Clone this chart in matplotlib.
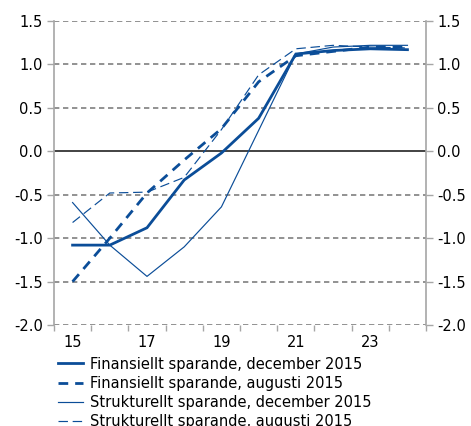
import numpy as np
import matplotlib.pyplot as plt
from matplotlib.ticker import FixedLocator

# data
years = [15, 16, 17, 18, 19, 20, 21, 22, 23, 24]
fin_dec = [-1.08, -1.08, -0.88, -0.33, -0.02, 0.38, 1.12, 1.16, 1.18, 1.17]
fin_aug = [-1.50, -1.00, -0.48, -0.10, 0.26, 0.80, 1.10, 1.15, 1.20, 1.20]
str_dec = [-0.59, -1.08, -1.44, -1.10, -0.64, 0.24, 1.12, 1.20, 1.22, 1.22]
str_aug = [-0.82, -0.48, -0.47, -0.30, 0.25, 0.88, 1.18, 1.22, 1.20, 1.19]
labels = ['Finansiellt sparande, december 2015',
          'Finansiellt sparande, augusti 2015',
          'Strukturellt sparande, december 2015',
          'Strukturellt sparande, augusti 2015']

blue = '#0b4d98'
grey = '#a6a6a6'
fs = 10.5
plt.rcParams['font.family'] = 'DejaVu Sans'

fig = plt.figure(figsize=(4.71, 4.26), dpi=100)
ax = fig.add_axes([0.1146, 0.237, 0.79, 0.7137])

# gridlines
for v in np.arange(-2.0, 1.51, 0.5):
    if abs(v) < 1e-9:
        ax.axhline(v, color='#222222', lw=1.2, zorder=1)
    else:
        ax.axhline(v, color='#7f7f7f', lw=1.2, ls=(0, (3.2, 2.2)), zorder=1)

l1, = ax.plot(years, fin_dec, color=blue, lw=2.0, solid_joinstyle='miter', zorder=3)
l2, = ax.plot(years, fin_aug, color=blue, lw=2.0, ls=(0, (3.5, 2.5)), zorder=3)
l3, = ax.plot(years, str_dec, color=blue, lw=0.85, zorder=3)
l4, = ax.plot(years, str_aug, color=blue, lw=0.85, ls=(0, (8, 4)), zorder=3)

ax.set_xlim(14.5, 24.5)
ax.set_ylim(-2.0, 1.5)

ax.set_xticks([15, 17, 19, 21, 23])
ax.set_xticklabels(['15', '17', '19', '21', '23'])
ax.xaxis.set_minor_locator(FixedLocator(np.arange(14.5, 24.6, 1.0)))
ax.tick_params(axis='x', which='major', length=0, pad=7, labelsize=fs)
ax.tick_params(axis='x', which='minor', length=4, color=grey, width=1)

ax.set_yticks(np.arange(-2.0, 1.51, 0.5))
ax.set_yticklabels(['%.1f' % v for v in np.arange(-2.0, 1.51, 0.5)])
ax.tick_params(axis='y', length=5, color=grey, width=1, labelsize=fs,
               right=True, labelright=True, pad=3)

for s in ['top', 'bottom']:
    ax.spines[s].set_visible(False)
for s in ['left', 'right']:
    ax.spines[s].set_color(grey)
    ax.spines[s].set_linewidth(1.2)

fig.legend([l1, l2, l3, l4], labels, loc='upper left',
           bbox_to_anchor=(0.124, 0.163), frameon=False, fontsize=fs,
           handlelength=1.7, handletextpad=0.45, labelspacing=0.28,
           borderaxespad=0, borderpad=0)

fig.savefig('out.png', dpi=100)
